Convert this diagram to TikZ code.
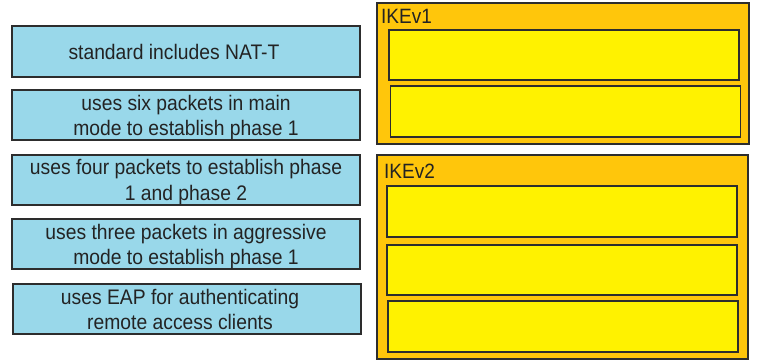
\documentclass[tikz,border=0pt]{standalone}
\usepackage{fontspec}
\usepackage{graphicx}
\setmainfont{Liberation Sans}
\definecolor{cardblue}{RGB}{153,216,234}
\definecolor{outerorange}{RGB}{255,198,11}
\definecolor{slotyellow}{RGB}{255,242,0}
\definecolor{edgegrey}{RGB}{45,45,45}
\definecolor{textgrey}{RGB}{35,35,35}
\newcommand{\tallstack}[1]{\scalebox{1}[1.09]{\begin{tabular}{@{}c@{}}#1\end{tabular}}}
\begin{document}
\begin{tikzpicture}[x=1pt,y=-1pt,
  card/.style={draw=edgegrey,line width=1.2pt,fill=cardblue,inner sep=0pt,
    minimum width=348pt,minimum height=50pt},
  cardtext/.style={inner sep=0pt,align=center,text=textgrey,font=\fontsize{19.3}{23}\selectfont},
  group/.style={draw=edgegrey,line width=1.2pt,fill=outerorange,inner sep=0pt},
  slot/.style={draw=edgegrey,line width=1.2pt,fill=slotyellow,inner sep=0pt,minimum width=350pt},
  grouplabel/.style={anchor=base west,inner sep=0pt,text=textgrey,font=\fontsize{19}{22}\selectfont}]
\useasboundingbox[fill=white] (0,0) rectangle (764,362);
% left cards
\node[card,minimum height=51pt] (c1) at (186,51.5) {};
\node[cardtext] (t1) at (174,54) {\tallstack{standard includes NAT-T}};
\node[card] (c2) at (186,115) {};
\node[cardtext] (t2) at (186,118) {\tallstack{uses six packets in main\\mode to establish phase 1}};
\node[card] (c3) at (186,180) {};
\node[cardtext] (t3) at (186,182.5) {\tallstack{uses four packets to establish phase\\1 and phase 2}};
\node[card] (c4) at (186,244) {};
\node[cardtext] (t4) at (186,247) {\tallstack{uses three packets in aggressive\\mode to establish phase 1}};
\node[card] (c5) at (187,309) {};
\node[cardtext] (t5) at (180,312) {\tallstack{uses EAP for authenticating\\remote access clients}};
% IKEv1 group
\node[group,minimum width=372pt,minimum height=141pt] (g1) at (563,73.5) {};
\node[grouplabel] (l1) at (381,23) {\scalebox{1}[1.09]{IKEv1}};
\node[slot,minimum height=50pt] (s11) at (564,55) {};
\node[slot,minimum height=51pt] (s12) at (565.5,111.5) {};
% IKEv2 group
\node[group,minimum width=371pt,minimum height=204pt] (g2) at (562.5,257) {};
\node[grouplabel] (l2) at (384,178) {\scalebox{1}[1.09]{IKEv2}};
\node[slot,minimum height=51pt] (s21) at (562,211.5) {};
\node[slot,minimum height=50pt] (s22) at (562,270) {};
\node[slot,minimum height=51pt] (s23) at (563,326.5) {};
\end{tikzpicture}
\end{document}
